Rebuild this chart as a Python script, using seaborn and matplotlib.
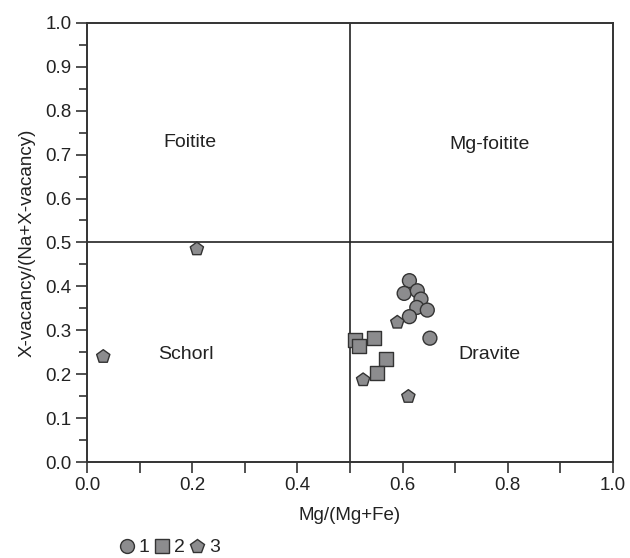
import matplotlib
matplotlib.use("Agg")
import matplotlib.pyplot as plt
import seaborn as sns
import pandas as pd
from matplotlib.ticker import MultipleLocator

# Group 1 (circles)
g1_x = [0.613, 0.603, 0.628, 0.635, 0.627, 0.647, 0.613, 0.652]
g1_y = [0.413, 0.384, 0.390, 0.371, 0.352, 0.346, 0.331, 0.282]
# Group 2 (squares)
g2_x = [0.510, 0.517, 0.546, 0.568, 0.552]
g2_y = [0.278, 0.265, 0.283, 0.234, 0.203]
# Group 3 (pentagons)
g3_x = [0.590, 0.525, 0.611, 0.209, 0.031]
g3_y = [0.318, 0.187, 0.149, 0.485, 0.240]

region_names = ["Foitite", "Mg-foitite", "Schorl", "Dravite"]
region_x = [0.196, 0.766, 0.188, 0.766]
region_y = [0.727, 0.722, 0.244, 0.244]

df = pd.DataFrame({
    "x": g1_x + g2_x + g3_x,
    "y": g1_y + g2_y + g3_y,
    "group": ["1"] * len(g1_x) + ["2"] * len(g2_x) + ["3"] * len(g3_x),
})

sns.set_theme(style="ticks")
plt.rcParams["font.family"] = ["Liberation Sans", "DejaVu Sans"]

fig = plt.figure(figsize=(6.3, 5.58), dpi=100)
ax = fig.add_axes([0.138, 0.172, 0.835, 0.787])

sns.scatterplot(data=df, x="x", y="y", style="group",
                markers={"1": "o", "2": "s", "3": "p"},
                color="#8c8c8e", edgecolor="#333333", linewidth=1.0,
                s=100, ax=ax, zorder=3, legend=True)

ax.axvline(0.5, color="#222222", lw=1.2, zorder=2)
ax.axhline(0.5, color="#222222", lw=1.2, zorder=2)

for name, tx, ty in zip(region_names, region_x, region_y):
    ax.text(tx, ty, name, ha="center", va="center", fontsize=14, color="#222222")

ax.set_xlim(0, 1)
ax.set_ylim(0, 1)
ax.xaxis.set_major_locator(MultipleLocator(0.2))
ax.xaxis.set_minor_locator(MultipleLocator(0.1))
ax.yaxis.set_major_locator(MultipleLocator(0.1))
ax.yaxis.set_minor_locator(MultipleLocator(0.05))
ax.set_xticklabels([f"{v:.1f}" for v in ax.get_xticks()])
ax.set_yticklabels([f"{v:.1f}" for v in ax.get_yticks()])
ax.tick_params(axis="both", which="major", direction="out", length=8, width=1.2,
               labelsize=13.5, colors="#333333", labelcolor="#222222", pad=3)
ax.tick_params(axis="x", which="minor", direction="out", length=8, width=1.2, colors="#333333")
ax.tick_params(axis="y", which="minor", direction="out", length=5.8, width=1.2, colors="#333333")
for sp in ax.spines.values():
    sp.set_linewidth(1.4)
    sp.set_color("#333333")

ax.set_xlabel("Mg/(Mg+Fe)", fontsize=13.5, color="#222222", labelpad=9)
ax.set_ylabel("X-vacancy/(Na+X-vacancy)", fontsize=13.5, color="#222222", labelpad=7)

handles, labels = ax.get_legend_handles_labels()
ax.get_legend().remove()
fig.legend(handles, labels, loc="lower left", bbox_to_anchor=(0.189, 0.003),
           ncol=3, frameon=False, fontsize=14, handletextpad=0.2,
           handlelength=0.8, columnspacing=0.25, borderpad=0.0,
           borderaxespad=0.0)

fig.savefig("out.png", dpi=100)
